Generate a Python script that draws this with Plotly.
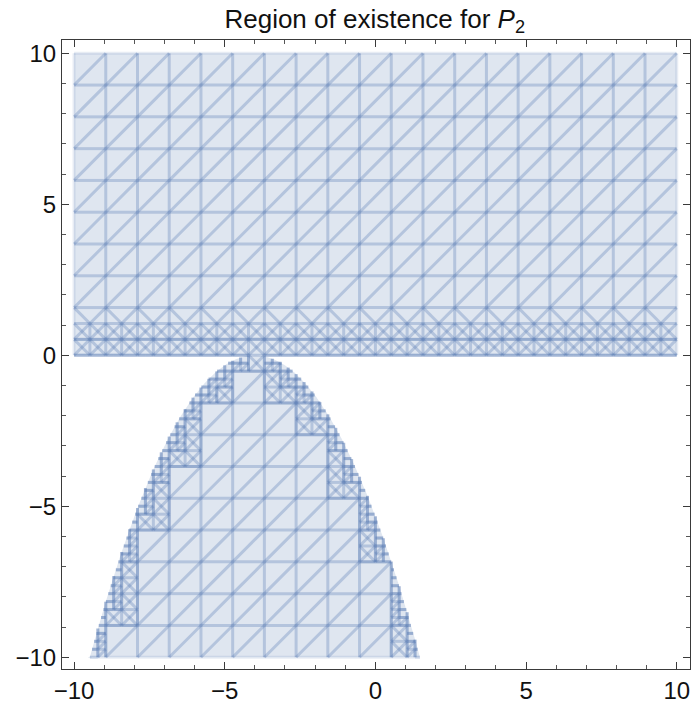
import numpy as np
import plotly.graph_objects as go

# ---- region definition ----
X_RANGE = [-10.0, 10.0]
Y_RANGE = [-10.0, 10.0]
APEX_X = -4.0          # apex of the lower parabolic lobe
APEX_Y = 0.0
CURVATURE = 1.0 / 3.0  # lower lobe: y <= APEX_Y - CURVATURE*(x-APEX_X)^2
UPPER_Y_MIN = 0.0      # upper band: y >= 0
GRID_N = 19            # base mesh cells per axis
MAX_DEPTH = 2
TICK_VALS = [-10, -5, 0, 5, 10]
TITLE = "Region of existence for <i>P</i><sub>2</sub>"

FILL = "rgba(94,129,181,0.2)"
MESH = "rgba(94,129,181,0.33)"
EDGE = "rgba(94,129,181,0.15)"
FONT = "Liberation Sans, Arial, sans-serif"
EPS = 1e-9


def inside(x, y):
    x = np.asarray(x, float)
    y = np.asarray(y, float)
    inbox = (x >= X_RANGE[0] - EPS) & (x <= X_RANGE[1] + EPS) & (y >= Y_RANGE[0] - EPS) & (y <= Y_RANGE[1] + EPS)
    upper = y >= UPPER_Y_MIN - EPS
    lower = y <= APEX_Y - CURVATURE * (x - APEX_X) ** 2 + EPS
    return inbox & (upper | lower)


def classify(x0, x1, y0, y1):
    xs = np.linspace(x0, x1, 9)
    ys = np.linspace(y0, y1, 9)
    gx, gy = np.meshgrid(xs, ys)
    m = inside(gx, gy)
    if m.all():
        return 1
    if not m.any():
        return 0
    return 2


segs = {"h": set(), "v": set(), "d": set(), "e": set()}
clipped = {"h": [], "v": [], "d": []}


def on_outer(p, q):
    if abs(p[0] - q[0]) < EPS and (abs(p[0] - X_RANGE[0]) < EPS or abs(p[0] - X_RANGE[1]) < EPS):
        return True
    if abs(p[1] - q[1]) < EPS and (abs(p[1] - Y_RANGE[0]) < EPS or abs(p[1] - Y_RANGE[1]) < EPS):
        return True
    return False


def kind_of(p, q):
    if abs(p[1] - q[1]) < EPS:
        return "h"
    if abs(p[0] - q[0]) < EPS:
        return "v"
    return "d"


def add(p, q):
    k = "e" if on_outer(p, q) else kind_of(p, q)
    a = (round(p[0], 7), round(p[1], 7))
    b = (round(q[0], 7), round(q[1], 7))
    segs[k].add(tuple(sorted([a, b])))


def add_clipped(p, q):
    t = np.linspace(0, 1, 60)
    xs = p[0] + (q[0] - p[0]) * t
    ys = p[1] + (q[1] - p[1]) * t
    m = inside(xs, ys)
    k = kind_of(p, q)
    run = []
    for xi, yi, mi in zip(xs, ys, m):
        if mi:
            run.append((xi, yi))
        else:
            if len(run) > 1:
                clipped[k].append(run)
            run = []
    if len(run) > 1:
        clipped[k].append(run)


def cell_lines(x0, x1, y0, y1, cross, diag=True):
    lines = [((x0, y0), (x1, y0)), ((x0, y1), (x1, y1)),
             ((x0, y0), (x0, y1)), ((x1, y0), (x1, y1))]
    if diag:
        lines.append(((x0, y0), (x1, y1)))
    if cross:
        lines.append(((x0, y1), (x1, y0)))
    return lines


def process(x0, x1, y0, y1, depth):
    c = classify(x0, x1, y0, y1)
    if c == 0:
        return
    if c == 1:
        for p, q in cell_lines(x0, x1, y0, y1, depth == 1):
            add(p, q)
        return
    if depth < MAX_DEPTH:
        xm, ym = (x0 + x1) / 2, (y0 + y1) / 2
        for a, b in ((x0, xm), (xm, x1)):
            for c0, c1 in ((y0, ym), (ym, y1)):
                process(a, b, c0, c1, depth + 1)
    else:
        for p, q in cell_lines(x0, x1, y0, y1, False, diag=False):
            add_clipped(p, q)


def transition_cell(x0, x1, y0, y1):
    xm, ym = (x0 + x1) / 2, (y0 + y1) / 2
    lines = [((x0, y0), (x1, y0)), ((x0, y1), (x1, y1)),
             ((x0, y0), (x0, y1)), ((x1, y0), (x1, y1)),
             ((x0, ym), (x1, ym)), ((xm, y0), (xm, ym)),
             ((x0, y0), (xm, ym)), ((x0, ym), (xm, y0)),
             ((xm, y0), (x1, ym)), ((xm, ym), (x1, y0)),
             ((x0, y1), (xm, ym)), ((x1, y1), (xm, ym))]
    for p, q in lines:
        add(p, q)


hx = (X_RANGE[1] - X_RANGE[0]) / GRID_N
hy = (Y_RANGE[1] - Y_RANGE[0]) / GRID_N
status = np.zeros((GRID_N, GRID_N), int)
for i in range(GRID_N):
    for j in range(GRID_N):
        x0 = X_RANGE[0] + i * hx
        y0 = Y_RANGE[0] + j * hy
        status[i, j] = classify(x0, x0 + hx, y0, y0 + hy)

for i in range(GRID_N):
    for j in range(GRID_N):
        x0 = X_RANGE[0] + i * hx
        y0 = Y_RANGE[0] + j * hy
        x1, y1 = x0 + hx, y0 + hy
        s = status[i, j]
        if s == 0:
            continue
        if s == 2:
            process(x0, x1, y0, y1, 0)
            continue
        if y0 >= UPPER_Y_MIN - EPS and j > 0 and status[i, j - 1] == 2:
            transition_cell(x0, x1, y0, y1)
        else:
            for p, q in cell_lines(x0, x1, y0, y1, False):
                add(p, q)


def to_xy(k):
    xs, ys = [], []
    for (a, b) in segs.get(k, ()):
        xs += [a[0], b[0], None]
        ys += [a[1], b[1], None]
    for run in clipped.get(k, []):
        xs += [p[0] for p in run] + [None]
        ys += [p[1] for p in run] + [None]
    return xs, ys


fig = go.Figure()

# fills
fig.add_trace(go.Scatter(
    x=[X_RANGE[0], X_RANGE[1], X_RANGE[1], X_RANGE[0], X_RANGE[0]],
    y=[UPPER_Y_MIN, UPPER_Y_MIN, Y_RANGE[1], Y_RANGE[1], UPPER_Y_MIN],
    fill="toself", fillcolor=FILL, line=dict(width=0), mode="lines",
    hoverinfo="skip", showlegend=False))
half = np.sqrt((APEX_Y - Y_RANGE[0]) / CURVATURE)
px = np.linspace(max(APEX_X - half, X_RANGE[0]), min(APEX_X + half, X_RANGE[1]), 300)
py = APEX_Y - CURVATURE * (px - APEX_X) ** 2
fig.add_trace(go.Scatter(
    x=list(px) + [px[0]], y=list(py) + [py[0]],
    fill="toself", fillcolor=FILL, line=dict(width=0), mode="lines",
    hoverinfo="skip", showlegend=False))

for k, col in (("e", EDGE), ("h", MESH), ("v", MESH), ("d", MESH)):
    xs, ys = to_xy(k)
    fig.add_trace(go.Scatter(x=xs, y=ys, mode="lines",
                             line=dict(color=col, width=3),
                             hoverinfo="skip", showlegend=False))

axis_common = dict(
    showline=True, linecolor="#3a3a3a", linewidth=1, mirror="allticks",
    ticks="inside", ticklen=7, tickwidth=1, tickcolor="#3a3a3a",
    tickvals=TICK_VALS, ticktext=[str(v).replace("-", "\u2212") for v in TICK_VALS],
    minor=dict(ticks="inside", ticklen=4, dtick=1, tickcolor="#555555", tickwidth=1),
    showgrid=False, zeroline=False,
    tickfont=dict(family=FONT, size=24, color="#111111"),
)

fig.update_layout(
    width=694, height=710,
    margin=dict(l=62, r=4, t=40, b=41),
    paper_bgcolor="white", plot_bgcolor="white",
    title=dict(text=TITLE, x=0.54, xanchor="center", y=0.974, yanchor="middle",
               font=dict(family=FONT, size=26, color="#111111")),
    xaxis=dict(range=[-10.4, 10.44], **axis_common),
    yaxis=dict(range=[-10.39, 10.44], **axis_common),
)

fig.write_html("out.html")
